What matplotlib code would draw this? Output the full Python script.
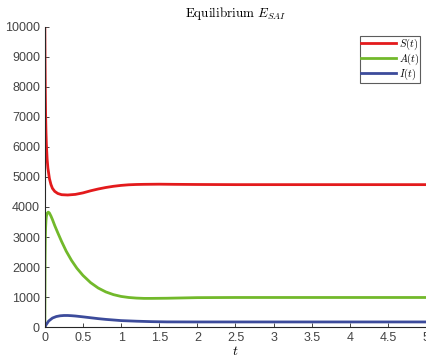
import matplotlib
matplotlib.use("Agg")
import matplotlib.pyplot as plt

plt.rcParams['mathtext.fontset'] = 'cm'

t_S = [0, 0.003, 0.006, 0.01, 0.015, 0.02, 0.03, 0.04, 0.06, 0.08, 0.1, 0.13, 0.17, 0.22, 0.3, 0.4, 0.5, 0.6, 0.7, 0.8, 0.9, 1.0, 1.1, 1.2, 1.3, 1.5, 1.7, 2.0, 2.5, 3.0, 4.0, 5.0]
S = [10000, 8800, 7900, 7100, 6500, 6100, 5600, 5300, 4950, 4750, 4620, 4520, 4450, 4410, 4400, 4420, 4470, 4540, 4600, 4650, 4690, 4720, 4740, 4750, 4755, 4760, 4755, 4750, 4745, 4745, 4745, 4745]

t_A = [0, 0.003, 0.006, 0.01, 0.015, 0.02, 0.03, 0.045, 0.06, 0.08, 0.1, 0.13, 0.17, 0.22, 0.28, 0.35, 0.42, 0.5, 0.6, 0.7, 0.8, 0.9, 1.0, 1.1, 1.2, 1.3, 1.4, 1.6, 1.8, 2.0, 2.5, 3.0, 4.0, 5.0]
A = [0, 2200, 2900, 3300, 3550, 3680, 3790, 3830, 3800, 3700, 3580, 3380, 3140, 2850, 2530, 2220, 1960, 1720, 1480, 1300, 1170, 1080, 1020, 985, 965, 955, 955, 960, 970, 980, 985, 985, 985, 985]

t_I = [0, 0.02, 0.05, 0.1, 0.15, 0.2, 0.25, 0.3, 0.35, 0.4, 0.5, 0.6, 0.7, 0.8, 0.9, 1.0, 1.2, 1.4, 1.6, 2.0, 2.5, 3.0, 4.0, 5.0]
I = [0, 90, 200, 300, 350, 375, 385, 385, 378, 368, 340, 310, 280, 255, 235, 215, 195, 180, 172, 170, 170, 170, 170, 170]

x_ticks = [0, 0.5, 1, 1.5, 2, 2.5, 3, 3.5, 4, 4.5, 5]
x_tick_labels = ['0', '0.5', '1', '1.5', '2', '2.5', '3', '3.5', '4', '4.5', '5']
y_ticks = [0, 1000, 2000, 3000, 4000, 5000, 6000, 7000, 8000, 9000, 10000]

fig = plt.figure(figsize=(4.27, 3.59), dpi=100)
ax = fig.add_axes([0.105, 0.089, 0.893, 0.836])

ax.plot(t_S, S, color='#e31a1c', lw=2, label=r'$S(t)$')
ax.plot(t_A, A, color='#72b92b', lw=2, label=r'$A(t)$')
ax.plot(t_I, I, color='#3c4b9b', lw=2, label=r'$I(t)$')

ax.set_xlim(0, 5)
ax.set_ylim(0, 10000)
ax.set_xticks(x_ticks)
ax.set_xticklabels(x_tick_labels)
ax.set_yticks(y_ticks)
ax.set_yticklabels([str(v) for v in y_ticks])
for s in ['top', 'right']:
    ax.spines[s].set_visible(False)
for s in ['left', 'bottom']:
    ax.spines[s].set_color('#262626')
    ax.spines[s].set_linewidth(0.8)
ax.tick_params(direction='in', length=3, width=0.6, colors='#262626', labelcolor='#444444', labelsize=9)
for lab in ax.get_xticklabels() + ax.get_yticklabels():
    lab.set_family('Liberation Sans')

ax.set_title(r'$\mathrm{Equilibrium}\ E_{SAI}$', fontsize=9.5, pad=7)
ax.set_xlabel(r'$t$', fontsize=10, labelpad=0)

leg = ax.legend(loc='upper right', bbox_to_anchor=(0.985, 0.97), fontsize=7.5,
                frameon=True, fancybox=False, edgecolor='#333333',
                handlelength=3.3, handletextpad=0.3, borderpad=0.1,
                labelspacing=-0.05, borderaxespad=0.0)
leg.get_frame().set_linewidth(0.8)

fig.savefig('out.png', dpi=100)
